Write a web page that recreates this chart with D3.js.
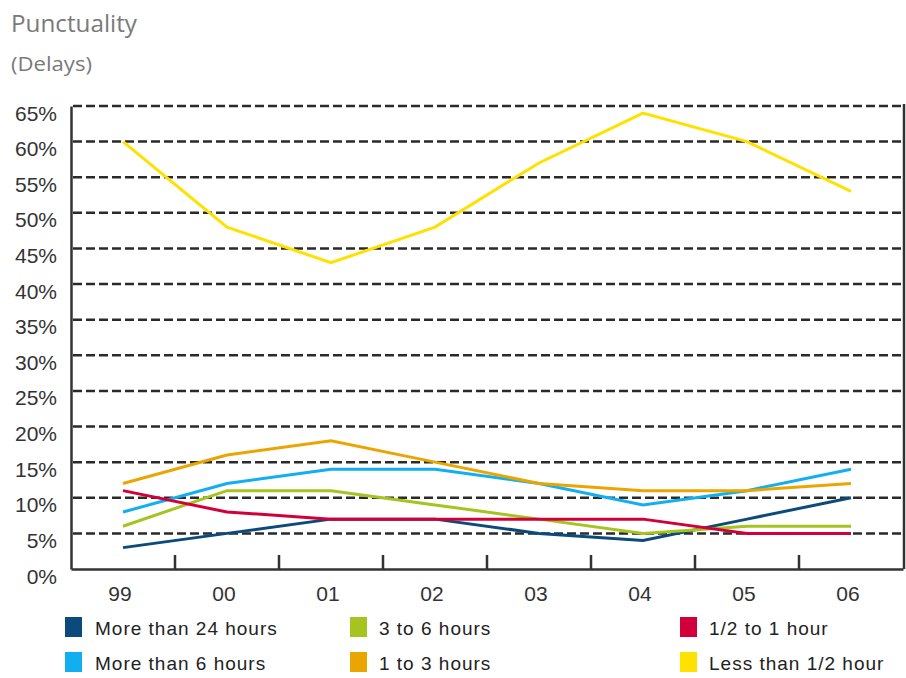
<!DOCTYPE html>
<html>
<head>
<meta charset="utf-8">
<script src="https://cdn.jsdelivr.net/npm/d3@7"></script>
<style>
body { margin: 0; background: #fff; }
</style>
</head>
<body>
<script>
// data
var years = ["99", "00", "01", "02", "03", "04", "05", "06"];
var yTicks = [0, 5, 10, 15, 20, 25, 30, 35, 40, 45, 50, 55, 60, 65];

var more24h = [3, 5, 7, 7, 5, 4, 7, 10];
var more6h = [8, 12, 14, 14, 12, 9, 11, 14];
var h3to6 = [6, 11, 11, 9, 7, 5, 6, 6];
var h1to3 = [12, 16, 18, 15, 12, 11, 11, 12];
var half1h = [11, 8, 7, 7, 7, 7, 5, 5];
var lessHalf = [60, 48, 43, 48, 57, 64, 60, 53];

var seriesNames = ["More than 24 hours", "More than 6 hours", "3 to 6 hours", "1 to 3 hours", "1/2 to 1 hour", "Less than 1/2 hour"];
var seriesValues = [more24h, more6h, h3to6, h1to3, half1h, lessHalf];
var seriesColors = ["#0b4a7a", "#12aff0", "#a5c41f", "#eba500", "#d1003a", "#ffe100"];

var width = 906, height = 678;
var plotLeft = 71, plotRight = 904, plotTop = 106, plotBottom = 569;

var svg = d3.select("body").append("svg")
    .attr("width", width)
    .attr("height", height);

// title
svg.append("text")
    .attr("x", 11)
    .attr("y", 32)
    .attr("font-family", "Open Sans")
    .attr("font-size", 24)
    .attr("fill", "#7a7a7a")
    .attr("textLength", 126)
    .attr("lengthAdjust", "spacingAndGlyphs")
    .text("Punctuality");

svg.append("text")
    .attr("x", 11)
    .attr("y", 71)
    .attr("font-family", "Open Sans")
    .attr("font-size", 20)
    .attr("fill", "#7a7a7a")
    .attr("textLength", 81)
    .attr("lengthAdjust", "spacingAndGlyphs")
    .text("(Delays)");

var x = d3.scaleBand()
    .domain(years)
    .range([plotLeft, plotRight - 1]);

var y = d3.scaleLinear()
    .domain([0, 65])
    .range([plotBottom, plotTop]);

// dashed gridlines
svg.append("g")
    .selectAll("line")
    .data(yTicks.filter(function(d) { return d > 0; }))
    .enter().append("line")
    .attr("x1", plotLeft + 2)
    .attr("x2", plotRight)
    .attr("y1", function(d) { return y(d); })
    .attr("y2", function(d) { return y(d); })
    .attr("stroke", "#2a2a2a")
    .attr("stroke-width", 2.5)
    .attr("stroke-dasharray", "9 4");

// y axis
var yAxis = svg.append("g")
    .attr("transform", "translate(" + plotLeft + ",0)")
    .call(d3.axisLeft(y).tickValues(yTicks).tickSize(0).tickPadding(14)
        .tickFormat(function(d) { return d + "%"; }));
yAxis.select(".domain").attr("stroke", "#333").attr("stroke-width", 2.5);
yAxis.selectAll("text")
    .attr("font-family", "Liberation Sans")
    .attr("font-size", 21)
    .attr("fill", "#333")
    .attr("dy", 14);

// x axis with ticks between categories
var xAxis = svg.append("g")
    .attr("transform", "translate(0," + plotBottom + ")")
    .call(d3.axisBottom(x).tickSize(0).tickPadding(17));
xAxis.select(".domain").attr("stroke", "#333").attr("stroke-width", 2.5);
xAxis.selectAll("text")
    .attr("font-family", "Liberation Sans")
    .attr("font-size", 21)
    .attr("fill", "#333")
    .attr("dx", -3);

svg.append("g")
    .selectAll("line")
    .data(years.slice(1))
    .enter().append("line")
    .attr("x1", function(d) { return x(d); })
    .attr("x2", function(d) { return x(d); })
    .attr("y1", plotBottom)
    .attr("y2", plotBottom - 14)
    .attr("stroke", "#333")
    .attr("stroke-width", 2.5);

// right border
svg.append("line")
    .attr("x1", plotRight)
    .attr("x2", plotRight)
    .attr("y1", plotTop - 2)
    .attr("y2", plotBottom)
    .attr("stroke", "#333")
    .attr("stroke-width", 2.5);

// series lines
var line = d3.line()
    .x(function(d, i) { return x(years[i]) + x.bandwidth() / 2; })
    .y(function(d) { return y(d); });

svg.append("g")
    .selectAll("path")
    .data(seriesValues)
    .enter().append("path")
    .attr("d", line)
    .attr("fill", "none")
    .attr("stroke", function(d, i) { return seriesColors[i]; })
    .attr("stroke-width", 3);

// legend: two rows, three columns
var legendCols = [65, 350, 680];
var legendRows = [617, 652];

var legend = svg.append("g")
    .selectAll("g")
    .data(seriesNames)
    .enter().append("g")
    .attr("transform", function(d, i) {
        return "translate(" + legendCols[Math.floor(i / 2)] + "," + legendRows[i % 2] + ")";
    });

legend.append("rect")
    .attr("width", 17)
    .attr("height", 20)
    .attr("fill", function(d, i) { return seriesColors[i]; });

legend.append("text")
    .attr("x", function(d, i) { return Math.floor(i / 2) == 0 ? 30 : 29; })
    .attr("y", 18)
    .attr("font-family", "Liberation Sans")
    .attr("font-size", 19)
    .attr("letter-spacing", 1)
    .attr("fill", "#222")
    .text(function(d) { return d; });
</script>
</body>
</html>
